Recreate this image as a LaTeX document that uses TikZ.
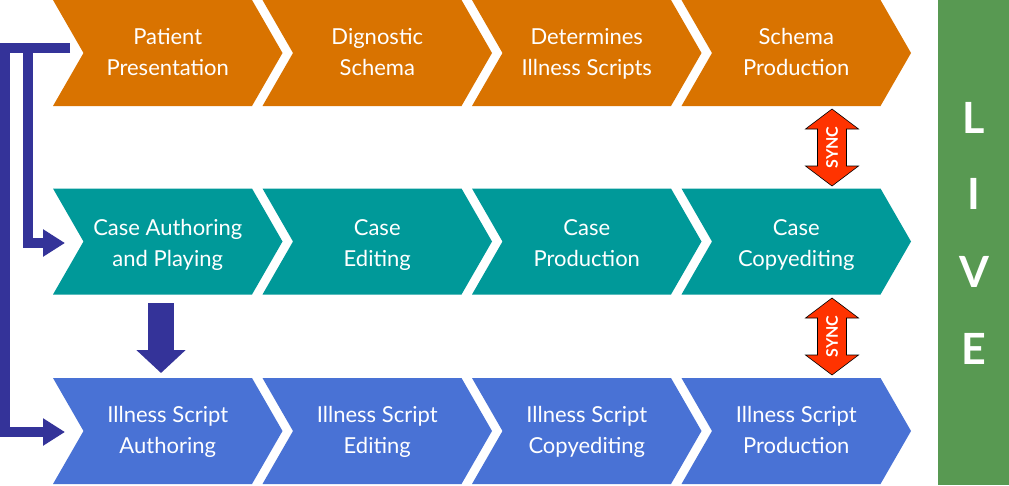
\documentclass[tikz,border=0pt]{standalone}
\usepackage{fontspec}
\setmainfont{Lato}
\usetikzlibrary{arrows.meta}

\definecolor{stageorange}{RGB}{217,115,0}
\definecolor{stageteal}{RGB}{0,153,153}
\definecolor{stageblue}{RGB}{73,114,213}
\definecolor{flownavy}{RGB}{52,51,153}
\definecolor{livegreen}{RGB}{88,153,82}
\definecolor{syncred}{RGB}{255,51,0}

\tikzset{
  steptext/.style={text=white, align=center, inner sep=0pt,
    font=\fontsize{22}{31}\selectfont},
  navyline/.style={draw=flownavy, line width=10pt,
    -{Triangle[length=22pt,width=26pt]}},
  dropline/.style={draw=flownavy, line width=26pt,
    -{Triangle[length=23pt,width=48pt]}},
  syncarrow/.style={fill=syncred, draw=black, line width=0.6pt, line join=miter},
  synctext/.style={text=white, rotate=90, inner sep=0pt,
    font=\fontsize{16}{16}\selectfont\bfseries},
  liveletter/.style={text=white, inner sep=0pt,
    font=\fontsize{43}{43}\selectfont\bfseries},
}

% chevron: [#1 label drop], #2 left x, #3 centre y, #4 colour, #5 node name, #6 label
% (struts keep both lines on the same baselines whatever the letters)
\newcommand\chevron[6][0]{%
  \fill[#4] (#2,#3-53) -- ++(199,0) -- ++(30.5,53) -- ++(-30.5,53)
    -- ++(-199,0) -- ++(30.5,-53) -- cycle;
  \node[steptext] (#5) at (#2+114.75,#3+0.5+#1) {\strut #6\strut};
}

% vertical double arrow centred at (#1,#2), labelled SYNC
\newcommand\syncarrow[3]{%
  \draw[syncarrow] (#1,#2-38.5) -- (#1+26.5,#2-18.5) -- (#1+14.5,#2-18.5)
    -- (#1+14.5,#2+18.5) -- (#1+26.5,#2+18.5) -- (#1,#2+38.5)
    -- (#1-26.5,#2+18.5) -- (#1-14.5,#2+18.5) -- (#1-14.5,#2-18.5)
    -- (#1-26.5,#2-18.5) -- cycle;
  \node[synctext] (#3) at (#1,#2) {SYNC};
}

\begin{document}
\begin{tikzpicture}[x=1pt,y=-1pt]
  \fill[white] (0,0) rectangle (1009,485);
  \useasboundingbox (0,0) rectangle (1009,485);

  % schema track
  \chevron{53}{53}{stageorange}{o1}{Patient\\Presentation}
  \chevron{262.5}{53}{stageorange}{o2}{Dignostic\\Schema}
  \chevron{472}{53}{stageorange}{o3}{Determines\\Illness Scripts}
  \chevron{681.5}{53}{stageorange}{o4}{Schema\\Production}

  % case track
  \chevron[3]{53}{241.5}{stageteal}{c1}{Case Authoring\\and Playing}
  \chevron[3]{262.5}{241.5}{stageteal}{c2}{Case\\Editing}
  \chevron[3]{472}{241.5}{stageteal}{c3}{Case\\Production}
  \chevron[3]{681.5}{241.5}{stageteal}{c4}{Case\\Copyediting}

  % illness script track
  \chevron{53}{431}{stageblue}{b1}{Illness Script\\Authoring}
  \chevron{262.5}{431}{stageblue}{b2}{Illness Script\\Editing}
  \chevron{472}{431}{stageblue}{b3}{Illness Script\\Copyediting}
  \chevron{681.5}{431}{stageblue}{b4}{Illness Script\\Production}

  % synchronisation between tracks
  \syncarrow{832}{147.5}{syncA}
  \syncarrow{832}{336.5}{syncB}

  % live column
  \node[fill=livegreen, minimum width=71pt, minimum height=485pt,
    inner sep=0pt, anchor=north west] (livebox) at (938,0) {};
  \node[liveletter] (liveL) at (974,118) {L};
  \node[liveletter] (liveI) at (974,194) {I};
  \node[liveletter] (liveV) at (974,272) {V};
  \node[liveletter] (liveE) at (974,349) {E};

  % feeds from the patient presentation
  \coordinate (busStart) at (70,48);
  \coordinate (busLeft) at (5,48);
  \coordinate (busBranch) at (28,48);
  \coordinate (inCase) at (65,243);
  \coordinate (inScript) at (65,432);
  \draw[navyline] (busStart) -- (busLeft) |- (inScript);
  \draw[navyline] (busBranch) |- (inCase);

  % hand-over from case authoring to script authoring
  \coordinate (dropTop) at (161,303);
  \coordinate (dropTip) at (161,373);
  \draw[dropline] (dropTop) -- (dropTip);
\end{tikzpicture}
\end{document}
